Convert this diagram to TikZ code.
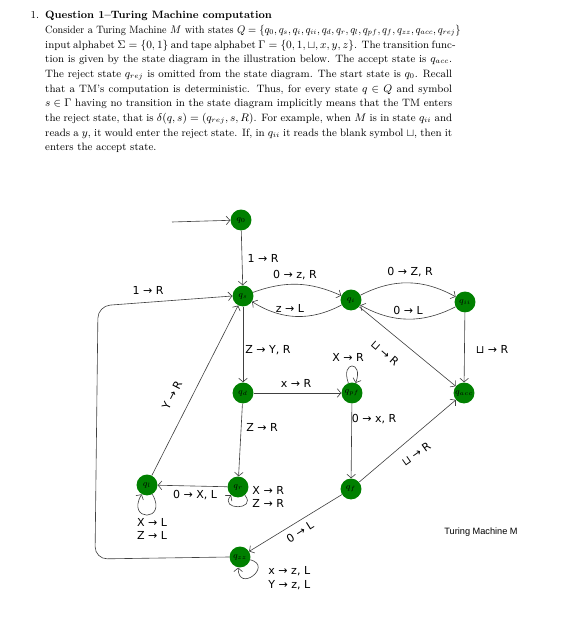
\documentclass[tikz,border=0pt]{standalone}
\usepackage{amsmath,amssymb}
\usepackage{fontspec}
\newfontfamily\handfont{DejaVu Sans}
\newfontfamily\capfont{Liberation Sans}
\usetikzlibrary{positioning,arrows.meta}
\newcommand{\qline}[1]{\makebox[11.68cm][s]{#1}}

\begin{document}
\begin{tikzpicture}[x=0.0287cm, y=0.0287cm,
    state/.style={circle, fill=green!50!black, minimum size=0.6cm,
                  inner sep=0pt, font=\scriptsize},
    trans/.style={draw=black!75, line width=0.5pt,
                  -{Straight Barb[length=3pt,width=7pt]}},
    lbl/.style={font=\handfont\fontsize{9}{11}\selectfont,
                align=left, inner sep=1pt}
]
\useasboundingbox (0,0) rectangle (580,628);

% ============================
% Question text
% ============================
\node[anchor=north west, align=left, inner sep=0pt,
      font=\fontsize{8.7}{12}\selectfont] (question) at (45,617) {%
  \llap{1.\hspace{5pt}}\textbf{Question 1--Turing Machine computation}\\
  \resizebox{11.92cm}{\height}{Consider a Turing Machine $M$ with states $Q=\{q_0,q_s,q_i,q_{ii},q_d,q_r,q_l,q_{pf},q_f,q_{zz},q_{acc},q_{rej}\}$}\\
  \qline{input alphabet $\Sigma=\{0,1\}$ and tape alphabet $\Gamma=\{0,1,\sqcup,x,y,z\}$. The transition func-}\\
  \qline{tion is given by the state diagram in the illustration below. The accept state is $q_{acc}$.}\\
  \qline{The reject state $q_{rej}$ is omitted from the state diagram. The start state is $q_0$. Recall}\\
  \qline{that a TM's computation is deterministic. Thus, for every state $q\in Q$ and symbol}\\
  \qline{$s\in\Gamma$ having no transition in the state diagram implicitly means that the TM enters}\\
  \qline{the reject state, that is $\delta(q,s)=(q_{rej},s,R)$. For example, when $M$ is in state $q_{ii}$ and}\\
  \qline{reads a $y$, it would enter the reject state. If, in $q_{ii}$ it reads the blank symbol $\sqcup$, then it}\\
  enters the accept state.};

% ============================
% States
% ============================
\node[state] (q0)   at (241,408) {$q_0$};
\node[state] (qs)   at (243,332) {$q_s$};
\node[state] (qi)   at (351,328) {$q_i$};
\node[state] (qii)  at (465,326) {$q_{ii}$};
\node[state] (qd)   at (243,235) {$q_d$};
\node[state] (qpf)  at (352,235) {$q_{pf}$};
\node[state] (qacc) at (464,235) {$q_{acc}$};
\node[state] (ql)   at (147,143) {$q_l$};
\node[state] (qr)   at (238,141) {$q_r$};
\node[state] (qf)   at (351,139) {$q_f$};
\node[state] (qzz)  at (240,71)  {$q_{zz}$};
\coordinate (start) at (172,406);

% ============================
% Transitions
% ============================
\draw[trans] (start) -- (q0);
\draw[trans] (q0) -- (qs);
\draw[trans] (qs) to[bend left=22] (qi);
\draw[trans] (qi) to[bend left=30] (qs);
\draw[trans] (qi) to[bend left=28] (qii);
\draw[trans] (qii) to[bend left=28] (qi);
\draw[trans] (qii) -- (qacc);
\draw[trans] (qi) -- (qacc);
\draw[trans] (qs) -- (qd);
\draw[trans] (qd) -- (qpf);
\draw[trans] (qd) -- (qr);
\draw[trans] (qpf) -- (qf);
\draw[trans] (qf) -- (qacc);
\draw[trans] (qf) -- (qzz);
\draw[trans] (qr) -- (ql);
\draw[trans] (ql) -- (qs);
\draw[trans, rounded corners=10pt] (qzz.west) -- (95,69) -- (98,322) -- (qs.west);
% loops
\draw[trans] (qpf.110) .. controls +(110:24) and +(70:24) .. (qpf.70);
\draw[trans] (qr.-50) .. controls +(-50:20) and +(-130:20) .. (qr.-130);
\draw[trans] (ql.-60) .. controls +(-60:32) and +(-120:32) .. (ql.-120);
\draw[trans] (qzz.-15) .. controls +(-15:24) and +(-90:26) .. (qzz.-100);

% ============================
% Labels
% ============================
\node[lbl] (l1)  at (263,370) {1 → R};
\node[lbl] (l2)  at (295,353) {0 → z, R};
\node[lbl] (l3)  at (290,320) {z → L};
\node[lbl] (l4)  at (410,356) {0 → Z, R};
\node[lbl] (l5)  at (408,318) {0 → L};
\node[lbl] (l6)  at (492,279) {⊔ → R};
\node[lbl, rotate=-41] (l7) at (385,275) {⊔ → R};
\node[lbl] (l8)  at (268,278) {Z → Y, R};
\node[lbl] (l9)  at (348,271) {X → R};
\node[lbl] (l10) at (296,245) {x → R};
\node[lbl] (l11) at (262,201) {Z → R};
\node[lbl] (l12) at (374,209) {0 → x, R};
\node[lbl, rotate=35] (l13) at (416,174) {⊔ → R};
\node[lbl, rotate=32] (l14) at (300,96) {0 → L};
\node[lbl] (l15) at (195,133) {0 → X, L};
\node[lbl, anchor=west] (l16) at (251,131) {X → R\\Z → R};
\node[lbl] (l17) at (152,99)  {X → L\\Z → L};
\node[lbl, anchor=west] (l18) at (267,50) {x → z, L\\Y → z, L};
\node[lbl] (l19) at (148,338) {1 → R};
\node[lbl, rotate=63] (l20) at (172,233) {Y → R};

\node[font=\capfont\fontsize{7.5}{9}\selectfont] (caption) at (481,96) {Turing Machine M};
\end{tikzpicture}
\end{document}
